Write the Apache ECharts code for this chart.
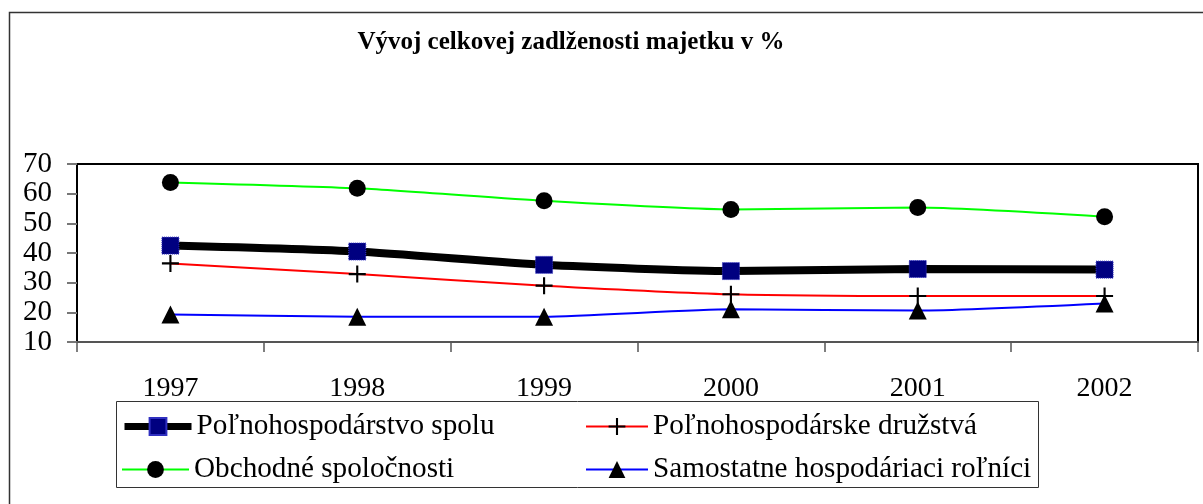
<!DOCTYPE html>
<html>
<head>
<meta charset="utf-8">
<script src="https://cdn.jsdelivr.net/npm/echarts@6/dist/echarts.min.js"></script>
<style>
  html, body { margin: 0; padding: 0; background: #fff; }
  #chart { width: 1203px; height: 504px; }
</style>
</head>
<body>
<div id="chart"></div>
<script>
// Roky a hodnoty zadlženosti (v %)
const years = ['1997', '1998', '1999', '2000', '2001', '2002'];
const spolu = [42.5, 40.5, 36.0, 33.9, 34.6, 34.4];
const druzstva = [36.5, 32.9, 29.0, 26.1, 25.5, 25.5];
const obchodne = [63.8, 61.8, 57.6, 54.7, 55.3, 52.2];
const rolnici = [19.3, 18.5, 18.5, 21.0, 20.6, 23.0];
const yTicks = [10, 20, 30, 40, 50, 60, 70];

const names = [
  'Poľnohospodárstvo spolu',
  'Poľnohospodárske družstvá',
  'Obchodné spoločnosti',
  'Samostatne hospodáriaci roľníci'
];

const FONT = '"Liberation Serif", "Times New Roman", serif';
const plusPath = 'path://M7,0 L9,0 L9,7 L16,7 L16,9 L9,9 L9,16 L7,16 L7,9 L0,9 L0,7 L7,7 Z';

const chart = echarts.init(document.getElementById('chart'), null, { renderer: 'canvas' });

function legendAt(name, left, top, width, lineWidth) {
  return {
    data: [{ name: name, lineStyle: { width: lineWidth } }],
    left: left,
    top: top,
    orient: 'horizontal',
    padding: 0,
    itemWidth: width,
    itemHeight: 21,
    selectedMode: false,
    textStyle: { fontFamily: FONT, fontSize: 29.2, color: '#000' }
  };
}

chart.setOption({
  animation: false,
  backgroundColor: '#fff',
  title: {
    text: 'Vývoj celkovej zadlženosti majetku v %',
    left: 566,
    textAlign: 'center',
    top: 25,
    textStyle: { fontFamily: FONT, fontWeight: 'bold', fontSize: 25, color: '#000' }
  },
  graphic: [
    {
      type: 'rect',
      shape: { x: 9.5, y: 12.5, width: 1300, height: 600 },
      style: { fill: 'none', stroke: '#333', lineWidth: 1.5 },
      silent: true
    },
    {
      type: 'rect',
      shape: { x: 116.5, y: 401.5, width: 922, height: 86 },
      style: { fill: '#fff', stroke: '#333', lineWidth: 1 },
      silent: true,
      z: -1
    }
  ],
  legend: [
    legendAt(names[0], 121, 412, 67, 7),
    legendAt(names[1], 585, 412, 62, 2),
    legendAt(names[2], 121, 455, 67, 2),
    legendAt(names[3], 585, 455, 62, 2)
  ],
  grid: {
    left: 77, top: 164, width: 1121, height: 178,
    show: true, borderColor: '#000', borderWidth: 2, backgroundColor: 'transparent'
  },
  xAxis: {
    type: 'category',
    data: years,
    boundaryGap: true,
    axisLine: { lineStyle: { color: '#555', width: 2 } },
    axisTick: { show: true, length: 10, alignWithLabel: false, lineStyle: { color: '#555', width: 1.5 } },
    axisLabel: { fontFamily: FONT, fontSize: 28, color: '#000', margin: 33 },
    splitLine: { show: false }
  },
  yAxis: {
    type: 'value',
    min: yTicks[0],
    max: yTicks[yTicks.length - 1],
    interval: 10,
    axisLine: { show: true, lineStyle: { color: '#000', width: 2 } },
    axisTick: { show: true, length: 10, lineStyle: { color: '#777', width: 2 } },
    axisLabel: {
      fontFamily: FONT, fontSize: 29, color: '#000', margin: 25,
      showMinLabel: true, showMaxLabel: true
    },
    splitLine: { show: false }
  },
  series: [
    {
      name: names[0], type: 'line', data: spolu, smooth: 0.2,
      lineStyle: { color: '#000', width: 8 },
      itemStyle: { color: '#000080', borderColor: '#3030c0', borderWidth: 1, borderType: 'dotted' },
      symbol: 'rect', symbolSize: 17, showAllSymbol: true, z: 2
    },
    {
      name: names[1], type: 'line', data: druzstva, smooth: 0.2,
      lineStyle: { color: '#ff0000', width: 2 },
      itemStyle: { color: '#000' },
      symbol: plusPath, symbolSize: 17, showAllSymbol: true, z: 3
    },
    {
      name: names[2], type: 'line', data: obchodne, smooth: 0.2,
      lineStyle: { color: '#00ff00', width: 2 },
      itemStyle: { color: '#000' },
      symbol: 'circle', symbolSize: 17, showAllSymbol: true, z: 4
    },
    {
      name: names[3], type: 'line', data: rolnici, smooth: 0.2,
      lineStyle: { color: '#0000ff', width: 2 },
      itemStyle: { color: '#000' },
      symbol: 'triangle', symbolSize: [18, 18], showAllSymbol: true, z: 5
    }
  ]
});
</script>
</body>
</html>
